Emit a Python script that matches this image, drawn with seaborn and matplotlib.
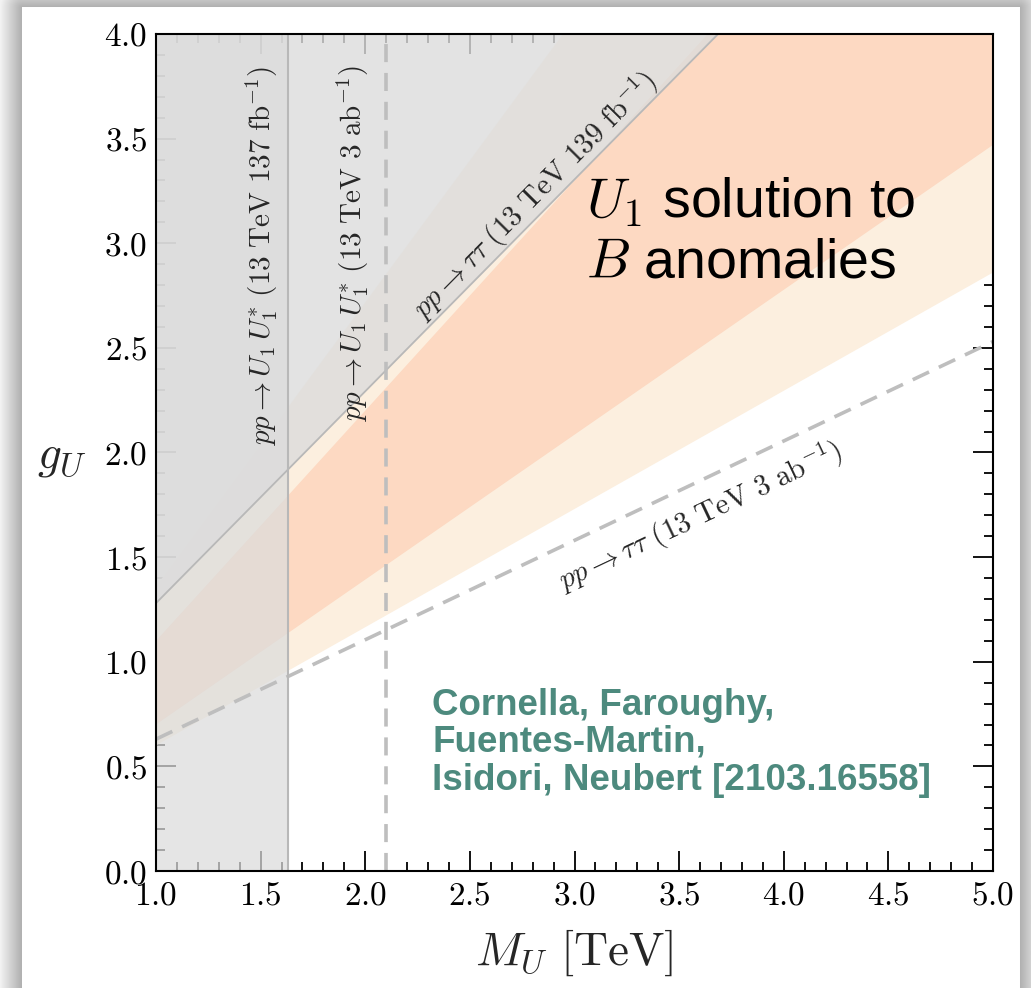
import numpy as np
import pandas as pd
import matplotlib
matplotlib.use("Agg")
import matplotlib.pyplot as plt
from matplotlib.ticker import MultipleLocator, FuncFormatter
import seaborn as sns

# ---------------- data ----------------
M_ends = [1.0, 5.0]                 # TeV
g_2sig_low = [0.60, 2.86]           # beige band (2 sigma)
g_2sig_high = [1.36, 6.79]
g_1sig_low = [0.70, 3.47]           # orange band (1 sigma)
g_1sig_high = [1.10, 5.50]
g_tautau_139 = [1.28, 5.33]         # pp -> tau tau, 139 fb^-1 (excluded above)
g_tautau_3ab = [0.63, 2.53]         # pp -> tau tau, 3 ab^-1 projection
M_pair_137 = 1.632                  # pp -> U1 U1*, 137 fb^-1 (excluded left)
M_pair_3ab = 2.10                   # pp -> U1 U1*, 3 ab^-1 projection

xticks = [1.0, 1.5, 2.0, 2.5, 3.0, 3.5, 4.0, 4.5, 5.0]
yticks = [0.0, 0.5, 1.0, 1.5, 2.0, 2.5, 3.0, 3.5, 4.0]

sns.set_theme(style="ticks")
plt.rcParams.update({
    "mathtext.fontset": "cm",
    "axes.unicode_minus": False,
})
plt.rcParams["font.family"] = ["Liberation Sans", "DejaVu Sans"]

W, H = 1031, 988
fig = plt.figure(figsize=(W / 100, H / 100), dpi=100)

# ---------------- screenshot-like shadow frame ----------------
bg = fig.add_axes([0, 0, 1, 1])
bg.set_axis_off()
yy, xx = np.mgrid[0:H, 0:W]
dx = np.maximum.reduce([22 - xx, xx - 1019, np.zeros_like(xx)])
dy = np.maximum(8 - yy, 0)
d = np.sqrt(dx ** 2 + dy ** 2)
inside = (d == 0)
val = np.where(inside, 1.0, 0.68 + 0.27 * np.clip(d / 22.0, 0, 1))
bg.imshow(val, cmap="gray", vmin=0, vmax=1, extent=(0, W, H, 0),
          aspect="auto", interpolation="bilinear", zorder=-10)
bg.set_xlim(0, W)
bg.set_ylim(H, 0)

# ---------------- main axes ----------------
ax = fig.add_axes([156 / W, 117 / H, 837 / W, 837 / H])
ax.set_facecolor("white")

gray = "#dcdcdc"
ax.fill_between(M_ends, g_2sig_low, g_2sig_high, color="#fcefdf", lw=0, zorder=1)
ax.fill_between(M_ends, g_1sig_low, g_1sig_high, color="#fdd9c2", lw=0, zorder=1.1)
ax.fill_between(M_ends, g_tautau_139, [10, 10], color=gray, alpha=0.8,
                lw=0, zorder=1.5)
ax.axvspan(1.0, M_pair_137, color=gray, alpha=0.72, lw=0, zorder=1.6)

df139 = pd.DataFrame({"M": M_ends, "g": g_tautau_139})
sns.lineplot(data=df139, x="M", y="g", ax=ax, color="#b8b8b8", lw=1.3, zorder=2)
df3ab = pd.DataFrame({"M": M_ends, "g": g_tautau_3ab})
sns.lineplot(data=df3ab, x="M", y="g", ax=ax, color="#bebebe", lw=2.6, zorder=2)
ax.lines[-1].set_dashes((5, 3))
ax.axvline(M_pair_137, color="#b8b8b8", lw=1.5, zorder=2)
ax.axvline(M_pair_3ab, color="#bebebe", lw=2.6, dashes=(5, 3), zorder=2)

ax.set_xlim(1, 5)
ax.set_ylim(0, 4)
ax.set_xticks(xticks)
ax.set_yticks(yticks)
ax.xaxis.set_minor_locator(MultipleLocator(0.1))
ax.yaxis.set_minor_locator(MultipleLocator(0.1))
fmt = FuncFormatter(lambda v, p: f"${v:.1f}$")
ax.xaxis.set_major_formatter(fmt)
ax.yaxis.set_major_formatter(fmt)
ax.tick_params(which="both", direction="in", top=True, right=True,
               color="black", width=1.3, labelsize=24, labelcolor="black")
ax.tick_params(which="major", length=14.5)
ax.tick_params(which="minor", length=6.5)
ax.tick_params(axis="x", pad=7)
ax.tick_params(axis="y", pad=6)
for sp in ax.spines.values():
    sp.set_linewidth(1.5)
    sp.set_color("black")
    sp.set_zorder(5)

ax.set_xlabel(r"$M_U\ [\mathrm{TeV}]$", fontsize=34)
ax.xaxis.set_label_coords(0.5, -0.068)
ax.xaxis.label.set_va("top")
ax.set_ylabel(r"$g_U$", fontsize=34, rotation=0, ha="center", va="center")
ax.yaxis.set_label_coords(-0.112, 0.495)

# ---------------- annotations ----------------
ann = 21
ax.text(1.507, 3.85, r"$pp \rightarrow U_1\, U_1^{*}\ (13\ \mathrm{TeV}\ 137\ \mathrm{fb}^{-1})$",
        rotation=90, ha="center", va="top", fontsize=ann, zorder=4)
ax.text(1.94, 3.85, r"$pp \rightarrow U_1\, U_1^{*}\ (13\ \mathrm{TeV}\ 3\ \mathrm{ab}^{-1})$",
        rotation=90, ha="center", va="top", fontsize=ann, zorder=4)
ax.text(2.811, 3.23, r"$pp \rightarrow \tau\tau\ (13\ \mathrm{TeV}\ 139\ \mathrm{fb}^{-1})$",
        rotation=45.3, ha="center", va="center", fontsize=ann, zorder=4)
ax.text(3.60, 1.696, r"$pp \rightarrow \tau\tau\ (13\ \mathrm{TeV}\ 3\ \mathrm{ab}^{-1})$",
        rotation=25.3, ha="center", va="center", fontsize=ann, zorder=4)

ax.text(3.055, 3.125, r"$U_1$ solution to", fontsize=40, ha="left", va="baseline",
        color="black", zorder=4)
ax.text(3.055, 2.834, r"$B$ anomalies", fontsize=40, ha="left", va="baseline",
        color="black", zorder=4)

green = "#4d8a7e"
ref_lines = ["Cornella, Faroughy,", "Fuentes-Martin,", "Isidori, Neubert [2103.16558]"]
ref_base = [0.7455, 0.5687, 0.3871]
for s, yb in zip(ref_lines, ref_base):
    ax.text(2.319, yb, s, fontsize=26.5, fontweight="bold", color=green,
            ha="left", va="baseline", zorder=4)

fig.savefig("out.png", dpi=100)
